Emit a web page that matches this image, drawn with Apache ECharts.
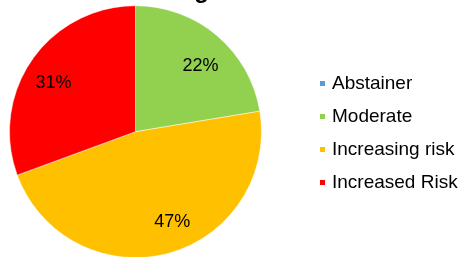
<!DOCTYPE html>
<html>
<head>
<meta charset="utf-8">
<script src="https://cdn.jsdelivr.net/npm/echarts@6/dist/echarts.min.js"></script>
<style>
    html, body { margin: 0; padding: 0; background: #fff; }
    #chart { width: 460px; height: 257px; }
</style>
</head>
<body>
<div id="chart"></div>
<script>
const titleText = 'Drinking';
const categories = ['Abstainer', 'Moderate', 'Increasing risk', 'Increased Risk'];
const values = [0, 22.4, 47, 30.6];
const colors = ['#5b9bd5', '#92d050', '#ffc000', '#ff0000'];
// small nudges so labels sit where the original put them
const labelOffsets = [[0, 0], [2, 9], [12, -4], [-2, 7]];

const pieData = categories.map((name, i) => ({
    name: name,
    value: values[i],
    itemStyle: { color: colors[i] }
}));

const chart = echarts.init(document.getElementById('chart'));
chart.setOption({
    animation: false,
    title: {
        text: titleText,
        right: 246,
        top: -26,
        textStyle: {
            fontFamily: 'Liberation Sans',
            fontSize: 24,
            fontWeight: 'bold',
            color: '#000'
        }
    },
    legend: {
        orient: 'vertical',
        left: 318,
        top: 74,
        padding: 0,
        itemWidth: 7,
        itemHeight: 7,
        itemGap: 14,
        icon: 'rect',
        data: categories,
        textStyle: {
            fontFamily: 'Liberation Sans',
            fontSize: 19,
            lineHeight: 19,
            color: '#000',
            padding: [0, 0, 0, 1]
        }
    },
    series: [
        {
            type: 'pie',
            center: [135.5, 131.7],
            radius: [0, 126],
            startAngle: 90,
            clockwise: true,
            silent: true,
            itemStyle: { borderColor: '#fff', borderWidth: 0.5 },
            label: { show: false },
            labelLine: { show: false },
            data: pieData
        },
        {
            // transparent ring only used to place the labels at ~0.75 radius
            type: 'pie',
            center: [135.5, 131.7],
            radius: [63, 126],
            startAngle: 90,
            clockwise: true,
            silent: true,
            itemStyle: { color: 'transparent', borderWidth: 0 },
            label: {
                show: true,
                position: 'inside',
                fontFamily: 'Liberation Sans',
                fontSize: 18,
                color: '#000',
                formatter: p => p.value > 0 ? Math.round(p.percent) + '%' : ''
            },
            labelLine: { show: false },
            data: categories.map((name, i) => ({
                name: name,
                value: values[i],
                label: { offset: labelOffsets[i] }
            }))
        }
    ]
});
</script>
</body>
</html>
